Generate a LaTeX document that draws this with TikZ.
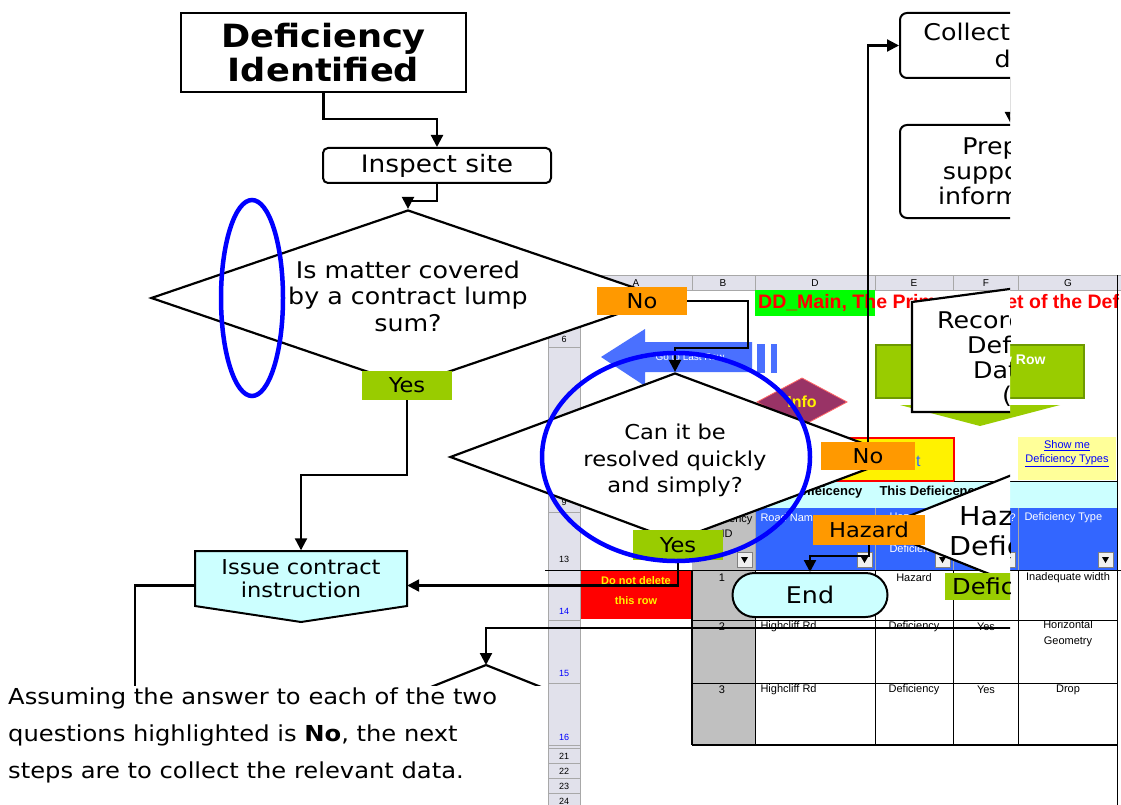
\documentclass[tikz,border=0pt]{standalone}
\usepackage{fontspec}
\setmainfont{DejaVu Sans}[FakeStretch=1.1]
\newfontfamily\xlf{Liberation Sans}
\usetikzlibrary{arrows.meta,shapes.geometric,calc}
\definecolor{orng}{HTML}{FF9900}
\definecolor{lgreen}{HTML}{99CC00}
\definecolor{lcyan}{HTML}{CCFFFF}
\definecolor{hdrgray}{HTML}{E1E1EB}
\definecolor{gridgray}{HTML}{A8A8A8}
\definecolor{xlblue}{HTML}{3366FF}
\definecolor{arrblue}{HTML}{4A70FF}
\definecolor{infomar}{HTML}{993366}
\definecolor{btnedge}{HTML}{6E9A00}
\definecolor{ddgreen}{HTML}{00FF00}
\definecolor{lyellow}{HTML}{FFFF99}
\definecolor{cellgray}{HTML}{C0C0C0}
\definecolor{rowblue}{HTML}{0000FF}
\tikzset{
  flow/.style={draw=black, line width=2.2pt, -{Triangle[length=12pt,width=12pt]}},
  plainline/.style={draw=black, line width=2.2pt},
  lbl/.style={fill=#1, inner sep=0pt, minimum height=28pt, font=\fontsize{20.5}{22}\selectfont},
  stepbox/.style={draw, line width=2pt, fill=white, rounded corners=7pt, inner sep=0pt, align=center},
  decis/.style={diamond, draw, line width=2.2pt, fill=white, inner sep=0pt, align=center},
  hl/.style={draw=rowblue, line width=4.5pt},
  xl/.style={font=\xlf\fontsize{11}{13}\selectfont},
  rowno/.style={font=\xlf\fontsize{9}{10}\selectfont, anchor=base, inner sep=0pt},
  colno/.style={font=\xlf\fontsize{10}{11}\selectfont, inner sep=0pt},
  grid/.style={draw=gridgray, line width=0.8pt},
  note/.style={anchor=base west, inner sep=0pt, font=\fontsize{22}{24}\selectfont},
  rectext/.style={anchor=west, inner sep=0pt, font=\fontsize{23}{25}\selectfont},
}
\begin{document}
\begin{tikzpicture}[x=1pt,y=-1pt]
\useasboundingbox (0,0) rectangle (1121,805);
\fill[white] (0,0) rectangle (1121,805);

% ================= spreadsheet =================
\fill[hdrgray] (548,275) rectangle (1121,290);
\fill[hdrgray] (548,290) rectangle (580,805);
\draw[grid] (548,275) -- (1121,275) (548,290) -- (1121,290);
\foreach \x in {548,580,692,755,875,953,1018} \draw[grid] (\x,275) -- (\x,290);
\draw[grid] (548,290) -- (548,805) (580,290) -- (580,805);
\foreach \y in {325,347,512,570,620,683,745,748,763,778,793} \draw[grid] (548,\y) -- (580,\y);
\foreach \x/\n in {636/A,723/B,815/D,914/E,986/F,1068/G}
  \node[colno] (col\n) at (\x,283) {\n};
\foreach \y/\n/\c in {342/6/black,505/9/black,562/13/black,614/14/rowblue,676/15/rowblue,740/16/rowblue,759/21/black,774/22/black,789/23/black,804/24/black}
  \node[rowno, text=\c] (row\n) at (564,\y) {\n};

% title
\fill[ddgreen] (755,290) rectangle (875,316);
\node[anchor=west, text=red, inner sep=0pt, font=\xlf\bfseries\fontsize{19.5}{21}\selectfont] (title) at (758,303) {DD\_Main, The Primary Sheet of the Def};

% go arrow
\fill[arrblue] (601,357) -- (645,329) -- (645,342) -- (752,342) -- (752,372) -- (645,372) -- (645,386) -- cycle;
\fill[arrblue] (757,344) rectangle (765,373);
\fill[arrblue] (771,344) rectangle (777,373);
\node[text=white, font=\xlf\fontsize{10}{11}\selectfont] (gorow) at (690,357) {Go to Last Row};

% green button
\fill[lgreen] (900,405) -- (1060,405) -- (980,426) -- cycle;
\filldraw[fill=lgreen, draw=btnedge, line width=1.2pt] (876,345) rectangle (1084,398);
\node[anchor=east, text=white, font=\xlf\bfseries\fontsize{14}{16}\selectfont] (addrow) at (1049,359) {Add New Row};

% info diamond
\filldraw[fill=infomar, draw=red!60, line width=0.8pt] (757,402) -- (802,378) -- (847,402) -- (802,426) -- cycle;
\node[text=yellow, font=\xlf\bfseries\fontsize{16}{18}\selectfont] (info) at (802,402) {Info};

% yellow cell
\fill[yellow] (819,438) rectangle (954,481);
\draw[red, line width=2.5pt] (819,438) rectangle (954,481);
\node[anchor=east, text=xlblue, font=\xlf\fontsize{16}{18}\selectfont] (print) at (924,461) {Print};

% show me
\fill[lyellow] (1018,437) rectangle (1116,480);
\node[align=center, text=blue, font=\xlf\fontsize{11}{14}\selectfont] (showme) at (1067,454) {\underline{Show me}\\\underline{Deficiency Types}};

\draw[line width=2.5pt] (954,482) -- (1118,482);

% cyan title row
\fill[lcyan] (692,482) rectangle (1117,508);
\node[anchor=east, font=\xlf\bfseries\fontsize{13}{15}\selectfont] (prevdef) at (866,492) {Defieicency};
\node[anchor=west, font=\xlf\bfseries\fontsize{13}{15}\selectfont] (thisdef) at (876,492) {This Defieicency};

% header row
\fill[cellgray] (692,508) rectangle (755,570);
\fill[xlblue] (755,508) rectangle (1117,570);
\foreach \x in {755,875,953,1018} \draw[grid] (\x,508) -- (\x,570);
\node[align=center, font=\xlf\fontsize{11}{15}\selectfont] (hdrid) at (727,526) {Deficiency\\ID};
\node[anchor=west, text=white, xl] (hdrroad) at (757,518) {Road Name};
\node[anchor=north west, align=left, text=white, font=\xlf\fontsize{11}{16}\selectfont] (hdrhaz) at (886,509) {Hazard\\or\\Deficiency};
\node[anchor=east, text=white, xl, inner sep=1pt] (hdrfix) at (1017,518) {?};
\node[anchor=west, text=white, xl] (hdrtype) at (1021,518) {Deficiency Type};
\foreach \x in {737,857,935,1000,1098} {
  \filldraw[fill=gray!12, draw=gray, line width=0.6pt] (\x,552) rectangle ++(15,15);
  \fill (\x+4,557) -- (\x+11,557) -- (\x+7.5,563) -- cycle;
}

% body
\fill[red] (581,571) rectangle (691,619);
\node[text=yellow, font=\xlf\bfseries\fontsize{11}{13}\selectfont] (dnd1) at (636,581) {Do not delete};
\node[text=yellow, font=\xlf\bfseries\fontsize{11}{13}\selectfont] (dnd2) at (636,601) {this row};
\fill[cellgray] (692,570) rectangle (755,745);
\draw[line width=1pt] (545,570) -- (1121,570);
\draw[line width=0.8pt] (692,620) -- (1117,620) (692,683) -- (1117,683);
\draw[line width=1.5pt] (692,745) -- (1117,745);
\foreach \x in {755,875,953,1018} \draw[line width=0.8pt] (\x,570) -- (\x,745);
\draw[line width=0.8pt] (1117,275) -- (1117,805);
\draw[line width=2.6pt] (692,570) -- (692,745);
\node[xl] (id1) at (722,578) {1};
\node[xl] (haz1) at (914,578) {Hazard};
\node[xl] (type1) at (1068,578) {Inadequate width};
\node[xl] (id2) at (722,627) {2};
\node[xl, anchor=west] (road2) at (757,627) {Highcliff Rd};
\node[xl] (haz2) at (914,627) {Deficiency};
\node[xl] (yes2c) at (986,627) {Yes};
\node[xl, align=center, font=\xlf\fontsize{11}{16}\selectfont] (type2) at (1068,634) {Horizontal\\Geometry};
\node[xl] (id3) at (722,690) {3};
\node[xl, anchor=west] (road3) at (757,690) {Highcliff Rd};
\node[xl] (haz3) at (914,690) {Deficiency};
\node[xl] (yes3c) at (986,690) {Yes};
\node[xl] (type3) at (1068,690) {Drop};

% ================= flowchart overlay =================
\begin{scope}
\clip (0,0) rectangle (1010,685);

\node[draw, line width=2pt, fill=white, minimum width=285pt, minimum height=79pt, inner sep=0pt, align=center, font=\bfseries\fontsize{32}{34}\selectfont] (defid) at (323.5,52.5) {\rule{0pt}{4pt}Deficiency\\Identified};
\node[stepbox, rounded corners=5pt, minimum width=228pt, minimum height=35pt, font=\fontsize{24}{26}\selectfont] (inspect) at (437,165.5) {Inspect site};
\node[decis, aspect=2.92, minimum width=514pt, minimum height=176pt] (d1) at (408,298) {};
\node[align=center, inner sep=0pt, font=\fontsize{23}{26.5}\selectfont] (d1txt) at (408,296) {Is matter covered\\by a contract lump\\sum?};
\node[decis, aspect=2.68, minimum width=450pt, minimum height=168pt] (d2) at (675,457) {};
\node[align=center, inner sep=0pt, font=\fontsize{20.5}{26.5}\selectfont] (d2txt) at (675,460.5) {Can it be\\resolved quickly\\and simply?};

\node[stepbox, minimum width=246pt, minimum height=65pt, font=\fontsize{23}{27}\selectfont] (collect) at (1023,45.5) {Collect relevant\\data};
\node[stepbox, minimum width=222pt, minimum height=93pt, font=\fontsize{23}{25}\selectfont] (prepare) at (1011,171.5) {Prepare\\supporting\\information};

% record (manual input)
\filldraw[fill=white, draw=black, line width=2.2pt] (912,302) -- (1130,273) -- (1130,412) -- (912,412) -- cycle;
\node[rectext] (rec1) at (937,320) {Record};
\node[rectext] (rec2) at (967,345) {Defic};
\node[rectext] (rec3) at (973,370) {Data};
\node[rectext] (rec4) at (1002,396) {(};

% hazard diamond
\node[decis, aspect=2.5, minimum width=450pt, minimum height=180pt] (hazd) at (1101,529) {};
\node[anchor=west, inner sep=0pt, font=\fontsize{26}{30}\selectfont] (hazq1) at (959,516) {Haza};
\node[anchor=west, inner sep=0pt, font=\fontsize{26}{30}\selectfont] (hazq2) at (949,546) {Defic};

% issue contract instruction (off-page shape)
\filldraw[fill=lcyan, draw=black, line width=2pt] (195,551) -- (407,551) -- (407,606) -- (301,622) -- (195,606) -- cycle;
\node[minimum width=212pt, minimum height=56pt, inner sep=0pt, align=center, font=\fontsize{20.5}{23}\selectfont] (issue) at (301,578.5) {Issue contract\\instruction};

\node[draw, line width=2pt, fill=lcyan, rounded corners=22pt, minimum width=155pt, minimum height=44pt, inner sep=0pt, font=\fontsize{23}{25}\selectfont] (end) at (810,595) {End};

% connectors
\coordinate (c1) at (748,348);
\coordinate (lowleft) at (135,700);
\coordinate (rightin) at (1030,628);
\coordinate (d3top) at (486,665);
\draw[flow] (defid.south) -- ++(0,26) -| (inspect.north);
\draw[flow] (inspect.south) -- ++(0,17) -| (d1.north);
\draw[flow] (642,301) -| (c1) -| (d2.north);
\draw[flow] (407,390) -- (407,475) -| (issue.north);
\draw[flow] (678,550) |- ($(issue.east)+(0,7)$);
\draw[plainline] ($(issue.west)+(0,7)$) -| (lowleft);
\draw[flow] (868,456) |- (collect.west);
\draw[flow] (collect.south -| prepare.north) -- (prepare.north);
\draw[flow] (869,540) -- (869,556) -| (end.north);
\draw[flow] (rightin) -| (d3top);
\draw[plainline] (d3top) -- ++(-100,40) (d3top) -- ++(100,40);

% labels
\node[lbl=orng, minimum width=90pt] (no1) at (642,301) {No};
\node[lbl=lgreen, minimum width=90pt, minimum height=29pt] (yes1) at (407,385.5) {Yes};
\node[lbl=orng, minimum width=94pt] (no2) at (868,456) {No};
\node[lbl=lgreen, minimum width=90pt, minimum height=30pt] (yes2) at (678,545) {Yes};
\node[lbl=orng, minimum width=112pt, minimum height=30pt] (hazlbl) at (869,530) {Hazard};
\node[lbl=lgreen, anchor=west, minimum height=27pt, inner xsep=7pt, font=\fontsize{22}{24}\selectfont] (deflbl) at (945,586.5) {Defic};

% highlight ellipses
\draw[hl] (252,298) ellipse [x radius=31pt, y radius=98pt];
\draw[hl] (676,457) ellipse [x radius=134pt, y radius=104pt];
\end{scope}

% ================= note =================
\node[note] (note1) at (8,704) {Assuming the answer to each of the two};
\node[note] (note2) at (8,741) {questions highlighted is \textbf{No}, the next};
\node[note] (note3) at (8,778) {steps are to collect the relevant data.};
\end{tikzpicture}
\end{document}
